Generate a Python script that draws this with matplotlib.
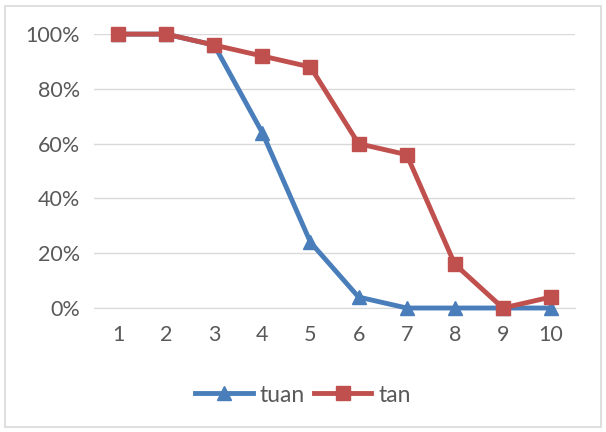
import matplotlib.pyplot as plt
from matplotlib.patches import Rectangle
from matplotlib.ticker import PercentFormatter

steps = [1, 2, 3, 4, 5, 6, 7, 8, 9, 10]
tuan = [1.00, 1.00, 0.96, 0.64, 0.24, 0.04, 0.00, 0.00, 0.00, 0.00]
tan = [1.00, 1.00, 0.96, 0.92, 0.88, 0.60, 0.56, 0.16, 0.00, 0.04]

plt.rcParams['font.family'] = ['Lato', 'DejaVu Sans']

fig = plt.figure(figsize=(6.06, 4.32), dpi=100)
ax = fig.add_axes([0.155, 0.287, 0.794, 0.634])

# chart frame
fig.patches.append(Rectangle((5 / 606, 5 / 432), 596 / 606, 421 / 432,
                             transform=fig.transFigure, fill=False,
                             edgecolor='#d9d9d9', linewidth=1.2))

ax.plot(steps, tuan, color='#4a7ebb', linewidth=3.5, marker='^',
        markersize=10, label='tuan', clip_on=False, zorder=3)
ax.plot(steps, tan, color='#c0504d', linewidth=3.5, marker='s',
        markersize=9.5, label='tan', clip_on=False, zorder=4)

ax.set_xlim(0.5, 10.5)
ax.set_ylim(0, 1)
ax.set_xticks(steps)
ax.set_yticks([0, 0.2, 0.4, 0.6, 0.8, 1.0])
ax.yaxis.set_major_formatter(PercentFormatter(1.0, decimals=0))
ax.grid(axis='y', color='#d9d9d9', linewidth=1)
ax.set_axisbelow(True)
for s in ['top', 'right', 'left']:
    ax.spines[s].set_visible(False)
ax.spines['bottom'].set_color('#d9d9d9')
ax.tick_params(length=0, labelsize=15.5, colors='#595959', pad=10)
ax.tick_params(axis='x', pad=12)

# legend centred on the whole chart, not the plot area
fig.legend(loc='center', bbox_to_anchor=(0.5, 37 / 432), ncol=2,
           frameon=False, fontsize=16.5, labelcolor='#595959',
           handlelength=2.5, handletextpad=0.3, columnspacing=0.4)

plt.savefig('out.png', dpi=100)
